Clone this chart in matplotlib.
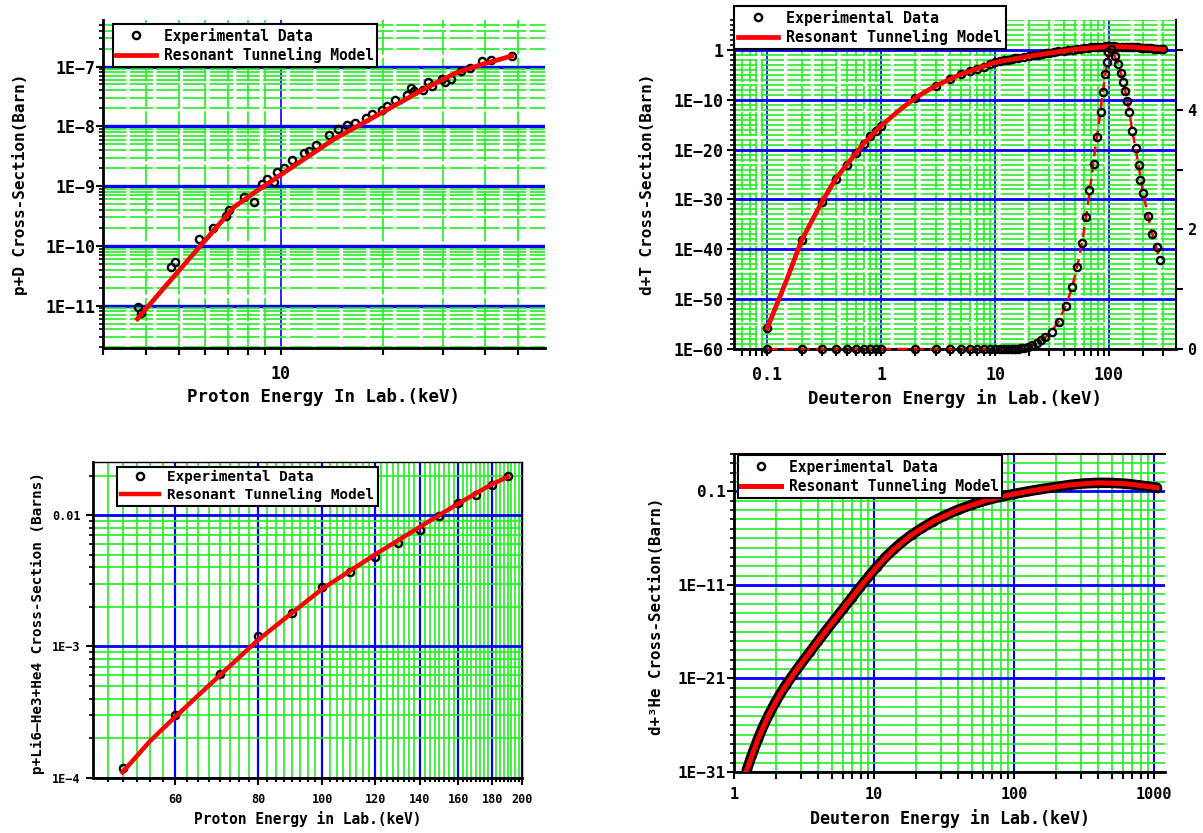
import numpy as np
import matplotlib
matplotlib.use("Agg")
import matplotlib.pyplot as plt
from matplotlib.ticker import NullFormatter

plt.rcParams['font.family'] = ['DejaVu Sans Mono', 'DejaVu Sans']
plt.rcParams['font.weight'] = 'bold'

BLUE = '#0000ff'
GREEN = '#22ee22'
RED = '#ff0000'
M = '\u2212'

# ---- p+D (top left)
pd_exp_e = [3.80, 3.87, 4.74, 4.87, 5.75, 6.30, 6.89, 7.05, 7.80, 8.35,
            8.83, 9.14, 9.56, 9.73, 10.2, 10.8, 11.7, 12.1, 12.7, 13.9,
            14.8, 15.7, 16.6, 17.8, 18.6, 19.9, 20.6, 21.8, 23.6, 24.2,
            24.8, 26.2, 27.2, 27.9, 29.8, 30.6, 31.8, 33.9, 36.2, 39.1,
            41.7, 48.1]
pd_exp_sigma = [9.4e-12, 7.4e-12, 4.4e-11, 5.4e-11, 1.3e-10, 2.0e-10, 3.2e-10, 3.9e-10, 6.5e-10, 5.5e-10,
                1.07e-9, 1.3e-9, 1.15e-9, 1.7e-9, 2.0e-9, 2.7e-9, 3.6e-9, 3.9e-9, 4.8e-9, 7.1e-9,
                8.9e-9, 1.04e-8, 1.15e-8, 1.4e-8, 1.6e-8, 1.9e-8, 2.2e-8, 2.8e-8, 3.4e-8, 4.4e-8,
                3.9e-8, 4.1e-8, 5.4e-8, 4.8e-8, 6.1e-8, 5.4e-8, 6.1e-8, 8.3e-8, 9.5e-8, 1.23e-7,
                1.3e-7, 1.5e-7]
pd_model_e = [3.78, 4.5, 5.8, 7.3, 8.4, 10.1, 14.3, 22.5, 26, 33, 40, 48]
pd_model_sigma = [6.0e-12, 1.9e-11, 1.0e-10, 4.5e-10, 7.9e-10, 1.6e-9, 6.0e-9, 2.5e-8, 4.0e-8, 7.9e-8, 1.12e-7, 1.5e-7]

# ---- d+T (top right), left axis in log10(barn)
dt_exp_e = [0.1, 0.2, 0.3, 0.4, 0.5, 0.6, 0.7, 0.8, 0.9, 1.0,
            2, 3, 4, 5, 6, 7, 8, 9, 10, 11,
            12, 13, 14, 15, 16, 18, 20, 22, 24, 26,
            28, 30, 33, 36, 40, 44, 48, 52, 56, 60,
            65, 70, 75, 80, 85, 90, 95, 100, 105, 110,
            115, 120, 130, 140, 150, 160, 170, 180, 190, 200,
            210, 220, 235, 250, 265, 280, 300]
dt_exp_log_sigma = [-55.8, -38.2, -30.6, -25.8, -23.0, -20.6, -18.8, -17.2, -16.2, -15.2,
                    -9.6, -7.2, -5.8, -4.9, -4.3, -3.8, -3.35, -2.9, -2.5, -2.3,
                    -2.1, -1.95, -1.8, -1.7, -1.6, -1.4, -1.25, -1.1, -0.95, -0.82,
                    -0.7, -0.58, -0.42, -0.3, -0.15, -0.03, 0.08, 0.18, 0.26, 0.34,
                    0.42, 0.49, 0.54, 0.59, 0.63, 0.66, 0.69, 0.7, 0.7, 0.69,
                    0.68, 0.67, 0.64, 0.62, 0.6, 0.57, 0.53, 0.5, 0.47, 0.43,
                    0.4, 0.36, 0.31, 0.26, 0.22, 0.18, 0.13]
dt_model_e = [0.1, 0.15, 0.2, 0.3, 0.4, 0.5, 0.7, 1, 1.5, 2, 3, 5, 10, 20, 50, 100, 150, 300]
dt_model_log_sigma = [-55.8, -45.8, -38.2, -30.6, -25.8, -23.0, -18.8, -15.2, -11.8, -9.6,
                      -7.2, -4.9, -2.5, -1.25, 0.13, 0.7, 0.6, 0.13]

# d+T right axis, linear barn
dt_lin_e = [0.1, 0.2, 0.3, 0.4, 0.5, 0.6, 0.7, 0.8, 0.9, 1.0,
            2, 3, 4, 5, 6, 7, 8, 9, 10, 11, 12, 13, 14, 15, 16,
            17, 18, 19.5,
            21, 23.2, 25.2, 27.5, 31.4, 36.6, 42, 47.7, 52.7, 58.3,
            63.3, 67.2, 73.8, 78.9, 84.5, 89, 92.2, 95.4, 99, 104,
            112, 121, 128, 134, 138, 145, 149, 159, 172, 182,
            188, 198, 220, 239, 263, 280]
dt_lin_sigma = [0.0] * 25 + [0.01, 0.02, 0.04,
                             0.07, 0.1, 0.15, 0.2, 0.28, 0.46, 0.72, 1.03, 1.37, 1.77,
                             2.2, 2.66, 3.1, 3.54, 3.97, 4.3, 4.6, 4.8, 4.96, 5.01,
                             4.89, 4.76, 4.61, 4.47, 4.32, 4.14, 3.97, 3.65, 3.36, 3.08,
                             2.83, 2.6, 2.22, 1.93, 1.7, 1.49]
dt_lin_model_e = [0.1, 1, 10, 16, 20, 25, 30, 35, 40, 45, 50, 55, 60, 65, 70, 75, 80, 85,
                  90, 95, 100, 105, 110, 120, 130, 140, 150, 160, 180, 200, 220, 240, 260, 280]
dt_lin_model_sigma = [0, 0, 0, 0, 0.05, 0.13, 0.25, 0.42, 0.65, 0.9, 1.2, 1.55, 1.95, 2.4, 2.85, 3.3, 3.65, 4.05,
                      4.4, 4.7, 4.95, 5.0, 4.93, 4.76, 4.55, 4.28, 4.0, 3.65, 3.12, 2.6, 2.22, 1.92, 1.7, 1.5]

# ---- p+Li6 (bottom left)
pli_exp_e = [50, 60, 70, 80, 90, 100, 110, 120, 130, 140, 150, 160, 170, 180, 190]
pli_exp_sigma = [1.18e-4, 3.0e-4, 6.2e-4, 1.19e-3, 1.8e-3, 2.85e-3, 3.7e-3, 4.8e-3,
                 6.1e-3, 7.7e-3, 9.8e-3, 1.23e-2, 1.42e-2, 1.69e-2, 1.98e-2]
pli_model_e = [50, 55, 60, 70, 80, 90, 100, 120, 140, 160, 180, 190]
pli_model_sigma = [1.1e-4, 1.9e-4, 2.9e-4, 6.0e-4, 1.12e-3, 1.8e-3, 2.75e-3, 5.0e-3,
                   8.1e-3, 1.22e-2, 1.72e-2, 1.95e-2]

# ---- d+3He (bottom right), log10(barn)
dhe_exp_e = [1.23, 1.35, 1.48, 1.62, 1.78, 1.95, 2.14, 2.34, 2.63, 3.02,
             3.47, 3.98, 4.57, 5.25, 6.03, 6.92, 7.94, 9.12, 10.5, 12.0,
             13.8, 15.8, 18.6, 21.9, 26.3, 31.6, 39.8, 50.1, 63.1, 79.4,
             100, 126, 158, 200, 251, 316, 398, 501, 631, 794,
             1047]
dhe_exp_log_sigma = [-30.8, -29.05, -27.47, -26.06, -24.8, -23.66, -22.64, -21.7, -20.63, -19.39,
                     -18.18, -17.0, -15.83, -14.67, -13.52, -12.37, -11.23, -10.11, -9.03, -8.06,
                     -7.2, -6.42, -5.62, -4.92, -4.22, -3.61, -2.96, -2.41, -1.95, -1.58,
                     -1.27, -0.99, -0.74, -0.52, -0.3, -0.15, -0.08, -0.09, -0.18, -0.36,
                     -0.6]
dhe_model_e = [1.23, 1.48, 1.78, 2.14, 2.63, 3.47, 4.57, 6.03, 7.94, 10.5, 13.8,
               18.6, 26.3, 39.8, 63.1, 100, 158, 251, 398, 631, 1047]
dhe_model_log_sigma = [-30.8, -27.47, -24.8, -22.64, -20.63, -18.18, -15.83, -13.52, -11.23, -9.03, -7.2,
                       -5.62, -4.22, -2.96, -1.95, -1.27, -0.74, -0.3, -0.08, -0.18, -0.6]


def setup_axes(ax, xlim, ylim, xmaj, xlab, xmin, ymaj, ylab, ymin,
               fs_x, fs_y, pad_x, pad_y, dashed, hlw, vlw):
    ax.set_xscale('log')
    ax.set_yscale('log')
    ax.set_xlim(xlim)
    ax.set_ylim(ylim)
    ax.set_xticks(xmaj, xlab)
    ax.set_xticks(xmin, minor=True)
    ax.set_yticks(ymaj, ylab)
    ax.set_yticks(ymin, minor=True)
    ax.xaxis.set_minor_formatter(NullFormatter())
    ax.yaxis.set_minor_formatter(NullFormatter())
    ax.tick_params(axis='x', which='both', direction='out', length=5, width=1.5,
                   labelsize=fs_x, pad=pad_x)
    ax.tick_params(axis='y', which='major', direction='out', length=5, width=1.5,
                   labelsize=fs_y, pad=pad_y)
    ax.tick_params(axis='y', which='minor', direction='out', length=3, width=1.2)
    ax.set_axisbelow(True)
    ls = (0, (14, 2)) if dashed else '-'
    ax.yaxis.grid(True, which='major', color=BLUE, lw=hlw)
    ax.xaxis.grid(True, which='major', color=BLUE, lw=vlw)
    ax.xaxis.grid(True, which='minor', color=GREEN, lw=1.2, linestyle=ls)
    ax.yaxis.grid(True, which='minor', color=GREEN, lw=1.2, linestyle=ls)
    for side in ['left', 'bottom']:
        ax.spines[side].set_linewidth(2.0)
    for side in ['top', 'right']:
        ax.spines[side].set_visible(False)


def add_labels(ax, xlabel, ylabel, xfs, yfs, xpos, ypos):
    ax.set_xlabel(xlabel, fontsize=xfs, fontweight='bold')
    ax.set_ylabel(ylabel, fontsize=yfs, fontweight='bold')
    ax.xaxis.set_label_coords(*xpos)
    ax.yaxis.set_label_coords(*ypos)
    ax.xaxis.label.set_va('center')
    ax.yaxis.label.set_va('center')


def add_legend(ax, anchor, fs):
    leg = ax.legend(loc='upper left', bbox_to_anchor=anchor, borderaxespad=0,
                    fontsize=fs, frameon=True, fancybox=False, framealpha=1,
                    edgecolor='black', borderpad=0.25, handlelength=2.7,
                    handletextpad=0.55, labelspacing=0.25, numpoints=1)
    leg.get_frame().set_linewidth(1.5)
    leg.set_zorder(10)
    return leg


fig = plt.figure(figsize=(12.03, 8.33), dpi=100)
ax1 = fig.add_axes([0.0859, 0.5822, 0.3668, 0.3938])
ax2 = fig.add_axes([0.6101, 0.5810, 0.3674, 0.3950])
ax3 = fig.add_axes([0.0771, 0.0664, 0.3572, 0.3794])
ax4 = fig.add_axes([0.6102, 0.0732, 0.3582, 0.3818])

mk = dict(marker='o', ls='none', mfc='none', mec='black', ms=5.2, mew=1.7)

# ---------- panel 1
ax1.plot(pd_exp_e, pd_exp_sigma, label='Experimental Data', zorder=3, **mk)
ax1.plot(pd_model_e, pd_model_sigma, color=RED, lw=3.4, label='Resonant Tunneling Model', zorder=4)
setup_axes(ax1, (3.0, 60), (1.95e-12, 6.0e-7),
           [10], ['10'], [3, 4, 5, 6, 7, 8, 9, 20, 30, 40, 50],
           [1e-11, 1e-10, 1e-9, 1e-8, 1e-7],
           ['1E' + M + '11', '1E' + M + '10', '1E' + M + '9', '1E' + M + '8', '1E' + M + '7'],
           [m * 10.0 ** k for k in range(-12, -6) for m in range(2, 10) if 1.95e-12 < m * 10.0 ** k < 6e-7],
           12, 12, 7, 1, True, 2.4, 1.2)
add_labels(ax1, 'Proton Energy In Lab.(keV)', 'p+D Cross-Section(Barn)', 12.5, 11.5,
           (0.5, -0.148), (-0.189, 0.5))
add_legend(ax1, (0.021, 0.988), 10.5)

# ---------- panel 2
ax2.plot(dt_exp_e, 10.0 ** np.array(dt_exp_log_sigma), label='Experimental Data', zorder=3, **mk)
ax2.plot(dt_model_e, 10.0 ** np.array(dt_model_log_sigma), color=RED, lw=3.4,
         label='Resonant Tunneling Model', zorder=4)
dt_ymaj = [10.0 ** k for k in range(-60, 1, 10)]
dt_ylab = ['1E' + M + str(-k) if k else '1' for k in range(-60, 1, 10)]
setup_axes(ax2, (0.051, 387), (1e-60, 1e6),
           [0.1, 1, 10, 100], ['0.1', '1', '10', '100'],
           [m * 10.0 ** k for k in range(-2, 3) for m in range(2, 10) if 0.051 < m * 10.0 ** k < 387],
           dt_ymaj, dt_ylab,
           [10.0 ** k for k in range(-60, 7) if k % 10 != 0],
           12, 12, 7, 2.5, True, 2.0, 1.2)
add_labels(ax2, 'Deuteron Energy in Lab.(keV)', 'd+T Cross-Section(Barn)', 12.5, 11.5,
           (0.5, -0.149), (-0.195, 0.5))
add_legend(ax2, (0.0, 1.0426), 10.8)

ax2r = ax2.twinx()
ax2r.plot(dt_lin_model_e, dt_lin_model_sigma, color=RED, lw=1.8, ls=(0, (4, 2.5)), zorder=3, clip_on=False)
ax2r.plot(dt_lin_e, dt_lin_sigma, zorder=4, clip_on=False, **mk)
ax2r.set_ylim(0, 5.5)
ax2r.set_yticks([0, 2, 4], ['0', '2', '4'])
ax2r.set_yticks([1, 3, 5], minor=True)
ax2r.tick_params(axis='y', which='major', direction='out', length=5, width=1.5, labelsize=11, pad=3)
ax2r.tick_params(axis='y', which='minor', direction='out', length=5, width=1.5)
for side in ['top', 'left', 'bottom']:
    ax2r.spines[side].set_visible(False)
ax2r.spines['right'].set_linewidth(1.5)

# ---------- panel 3
ax3.plot(pli_exp_e, pli_exp_sigma, label='Experimental Data', zorder=3, **mk)
ax3.plot(pli_model_e, pli_model_sigma, color=RED, lw=3.2, label='Resonant Tunneling Model', zorder=4)
pli_xmaj = [60, 80, 100, 120, 140, 160, 180, 200]
setup_axes(ax3, (45.1, 200), (1e-4, 0.0255),
           pli_xmaj, [str(v) for v in pli_xmaj],
           [v for v in np.arange(47.5, 200, 2.5) if v not in pli_xmaj],
           [1e-4, 1e-3, 1e-2], ['1E' + M + '4', '1E' + M + '3', '0.01'],
           [m * 10.0 ** k for k in range(-4, -1) for m in range(2, 10) if m * 10.0 ** k < 0.0255],
           8.5, 8.5, 6, 4, False, 2.0, 1.6)
ax3.tick_params(axis='x', which='minor', length=3)
add_labels(ax3, 'Proton Energy in Lab.(keV)', 'p+Li6\u2014He3+He4 Cross-Section (Barns)', 10.5, 10.3,
           (0.5, -0.131), (-0.127, 0.49))
add_legend(ax3, (0.057, 0.984), 10.3)
for side in ['top', 'right']:
    ax3.spines[side].set_visible(True)
    ax3.spines[side].set_linewidth(1.0)

# ---------- panel 4
dhe_sigma = 10.0 ** np.array(dhe_exp_log_sigma)
ax4.plot(dhe_exp_e, dhe_sigma, color='black', lw=7.5, solid_capstyle='round',
         solid_joinstyle='round', zorder=2)
ax4.plot(dhe_exp_e, dhe_sigma, label='Experimental Data', zorder=3, **mk)
ax4.plot(dhe_model_e, 10.0 ** np.array(dhe_model_log_sigma), color=RED, lw=3.6,
         label='Resonant Tunneling Model', zorder=4)
setup_axes(ax4, (1, 1195), (1e-31, 1e3),
           [1, 10, 100, 1000], ['1', '10', '100', '1000'],
           [m * 10.0 ** k for k in range(0, 4) for m in range(2, 10) if m * 10.0 ** k < 1195],
           [1e-31, 1e-21, 1e-11, 1e-1], ['1E' + M + '31', '1E' + M + '21', '1E' + M + '11', '0.1'],
           [10.0 ** k for k in range(-31, 4) if (k + 31) % 10 != 0],
           11, 11.5, 6, 1, False, 2.0, 1.5)
add_labels(ax4, 'Deuteron Energy in Lab.(keV)', 'd+\u00b3He Cross-Section(Barn)', 12, 11.3,
           (0.5, -0.145), (-0.181, 0.49))
add_legend(ax4, (0.0084, 0.997), 10.5)
ax4.spines['top'].set_visible(True)
ax4.spines['top'].set_linewidth(1.5)

fig.savefig('out.png', dpi=100, facecolor='white')
